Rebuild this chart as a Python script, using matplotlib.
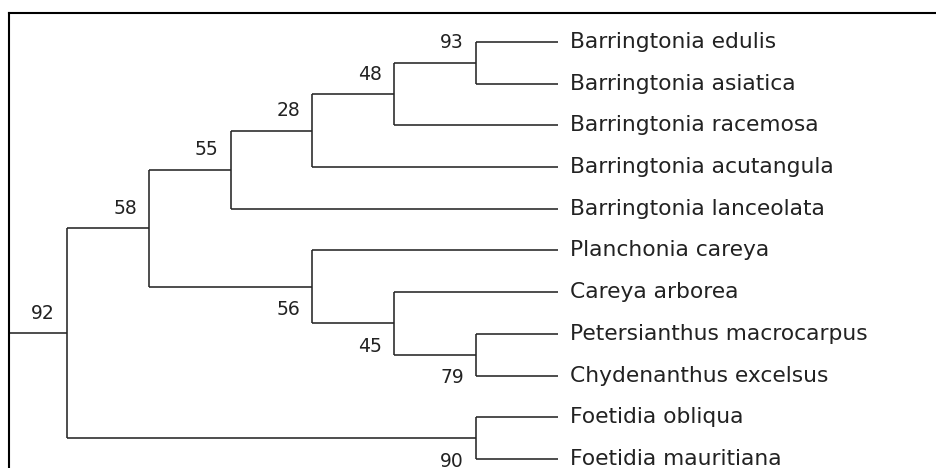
import matplotlib
matplotlib.use("Agg")
import matplotlib.pyplot as plt

# Árbol de consenso (bootstrap) de Lecythidaceae, estilo cladograma MEGA

taxa = [
    "Barringtonia edulis",
    "Barringtonia asiatica",
    "Barringtonia racemosa",
    "Barringtonia acutangula",
    "Barringtonia lanceolata",
    "Planchonia careya",
    "Careya arborea",
    "Petersianthus macrocarpus",
    "Chydenanthus excelsus",
    "Foetidia obliqua",
    "Foetidia mauritiana",
]

# nodos internos: nombre, hijos (superior, inferior) y valor bootstrap
clade_names = ["n93", "n48", "n28", "n55", "n79", "n45", "n56", "n58", "n90", "n92"]
clade_children = [
    ["Barringtonia edulis", "Barringtonia asiatica"],
    ["n93", "Barringtonia racemosa"],
    ["n48", "Barringtonia acutangula"],
    ["n28", "Barringtonia lanceolata"],
    ["Petersianthus macrocarpus", "Chydenanthus excelsus"],
    ["Careya arborea", "n79"],
    ["Planchonia careya", "n45"],
    ["n55", "n56"],
    ["Foetidia obliqua", "Foetidia mauritiana"],
    ["n58", "n90"],
]
bootstrap = [93, 48, 28, 55, 79, 45, 56, 58, 90, 92]
root = "n92"

children = dict(zip(clade_names, clade_children))
support = dict(zip(clade_names, bootstrap))

# ------------------------------------------------------------
#  Disposición: y = índice de hoja (medio de hijos), x = altura
# ------------------------------------------------------------

def altura(n):
    if n not in children:
        return 0
    return 1 + max(altura(c) for c in children[n])

def pos_y(n):
    if n not in children:
        return taxa.index(n)
    ys = [pos_y(c) for c in children[n]]
    return (ys[0] + ys[-1]) / 2

H = altura(root)
pos_x = lambda n: H - altura(n)

line_color = "#262626"
text_color = "#222222"
lw = 1.15

fig = plt.figure(figsize=(9.37, 4.68), dpi=100)
ax = fig.add_axes([9 / 937, 0, 1 - 9 / 937, (468 - 13) / 468])

root_stem = 0.71
ax.set_xlim(-root_stem, 10.636)
ax.set_ylim(10.216, -0.695)

for s in ["right", "bottom"]:
    ax.spines[s].set_visible(False)
for s in ["left", "top"]:
    ax.spines[s].set_linewidth(1.5)
    ax.spines[s].set_color("black")
ax.set_xticks([])
ax.set_yticks([])

dx_txt = 0.147
dy_up = 0.48
dy_dn = 0.55

# tallo de la raíz
ax.plot([-root_stem, pos_x(root)], [pos_y(root)] * 2, color=line_color, lw=lw, solid_capstyle="butt")
ax.text(pos_x(root) - dx_txt, pos_y(root) - dy_up, str(support[root]),
        ha="right", va="center", fontsize=13.5, color=text_color)

def dibujar(n):
    x0, y0 = pos_x(n), pos_y(n)
    hijos = children[n]
    ys = [pos_y(c) for c in hijos]
    ax.plot([x0, x0], [ys[0], ys[-1]], color=line_color, lw=lw, solid_capstyle="butt")
    for k, c in enumerate(hijos):
        xc, yc = pos_x(c), pos_y(c)
        ax.plot([x0, xc], [yc, yc], color=line_color, lw=lw, solid_capstyle="butt")
        if c in children:
            dy = -dy_up if k == 0 else dy_dn
            ax.text(xc - dx_txt, yc + dy, str(support[c]),
                    ha="right", va="center", fontsize=13.5, color=text_color)
            dibujar(c)
        else:
            ax.text(xc + dx_txt, yc, c, ha="left", va="center",
                    fontsize=15.7, color=text_color)

dibujar(root)

fig.savefig("out.png", dpi=100)
